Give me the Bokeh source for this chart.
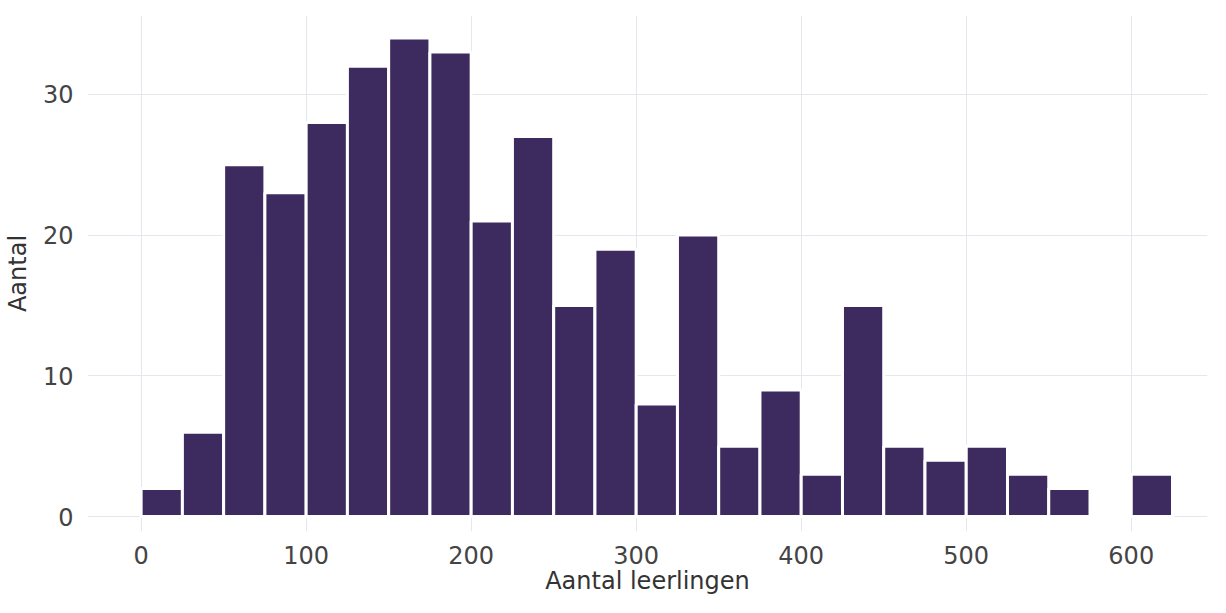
from bokeh.plotting import figure
from bokeh.models import Range1d, FixedTicker
from bokeh.embed import file_html
from bokeh.resources import INLINE

# Histogram of number of pupils (bins of width 25)
bin_left = [0, 25, 50, 75, 100, 125, 150, 175, 200, 225, 250, 275, 300,
            325, 350, 375, 400, 425, 450, 475, 500, 525, 550, 575, 600]
bin_width = 25
counts = [2, 6, 25, 23, 28, 32, 34, 33, 21, 27, 15, 19, 8,
          20, 5, 9, 3, 15, 5, 4, 5, 3, 2, 0, 3]
x_ticks = [0, 100, 200, 300, 400, 500, 600]
y_ticks = [0, 10, 20, 30]

p = figure(width=1210, height=597, output_backend="svg", toolbar_location=None,
           x_range=Range1d(-32.5, 646.2), y_range=Range1d(-1.06, 35.6),
           min_border_left=85, min_border_right=3, min_border_top=15, min_border_bottom=60)
p.outline_line_color = None
p.background_fill_color = "white"

right = [l + bin_width for l in bin_left]
p.quad(left=bin_left, right=right, bottom=0, top=counts,
       fill_color="#3d2a5e", line_color="white", line_width=3)

for ax in (p.xaxis[0], p.yaxis[0]):
    ax.axis_line_color = None
    ax.major_tick_line_color = None
    ax.minor_tick_line_color = None
    ax.major_tick_out = 0
    ax.major_tick_in = 0
    ax.major_label_text_font = "DejaVu Sans"
    ax.major_label_text_font_size = "24px"
    ax.major_label_text_color = "#444444"
    ax.axis_label_text_font = "DejaVu Sans"
    ax.axis_label_text_font_size = "24px"
    ax.axis_label_text_font_style = "normal"
    ax.axis_label_text_color = "#333333"

p.xaxis.ticker = FixedTicker(ticks=x_ticks)
p.yaxis.ticker = FixedTicker(ticks=y_ticks)
p.xaxis.axis_label = "Aantal leerlingen"
p.yaxis.axis_label = "Aantal"
p.xaxis.major_label_standoff = 14
p.xaxis.axis_label_standoff = 0
p.yaxis.major_label_standoff = 14
p.yaxis.axis_label_standoff = 8

p.xgrid.grid_line_color = "#e4e7ee"
p.ygrid.grid_line_color = "#e4e7ee"
p.xgrid.grid_line_width = 1
p.ygrid.grid_line_width = 1

open("out.html", "w").write(file_html(p, INLINE))
